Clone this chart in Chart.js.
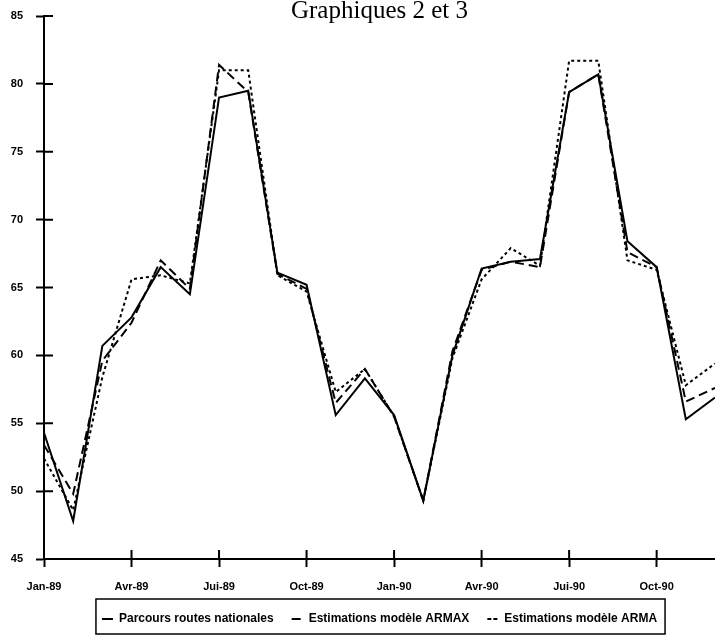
<!DOCTYPE html>
<html>
<head>
<meta charset="utf-8">
<script src="https://cdn.jsdelivr.net/npm/chart.js@4"></script>
<style>
  html, body { margin: 0; padding: 0; background: #fff; }
  #wrap { width: 715px; height: 639px; }
</style>
</head>
<body>
<div id="wrap"><canvas id="graph"></canvas></div>
<script>
// mois, de Jan-89 a Dec-90
var mois = ['Jan-89','Fév-89','Mar-89','Avr-89','Mai-89','Jun-89','Jui-89','Aoû-89','Sep-89','Oct-89','Nov-89','Déc-89',
            'Jan-90','Fév-90','Mar-90','Avr-90','Mai-90','Jun-90','Jui-90','Aoû-90','Sep-90','Oct-90','Nov-90','Déc-90'];

var parcours = [54.3, 47.8, 60.7, 62.8, 66.5, 64.5, 79.0, 79.5, 66.1, 65.2, 55.6, 58.3,
                55.6, 49.3, 60.0, 66.4, 66.9, 67.1, 79.4, 80.7, 68.4, 66.5, 55.3, 56.9];
var armax    = [53.4, 49.8, 59.6, 62.4, 67.0, 64.9, 81.4, 79.4, 66.0, 64.9, 56.5, 59.0,
                55.5, 49.3, 60.3, 66.3, 66.9, 66.5, 79.4, 80.7, 67.6, 66.5, 56.6, 57.6];
var arma     = [52.4, 48.6, 58.4, 65.6, 65.9, 65.3, 81.0, 81.0, 65.9, 64.7, 57.3, 59.0,
                55.5, 49.3, 59.8, 65.6, 67.9, 66.6, 81.7, 81.7, 67.0, 66.3, 57.8, 59.4];

var yTicks = [45, 50, 55, 60, 65, 70, 75, 80, 85];

// demi-traits de graduation a l'interieur du cadre (les traits croisent l'axe)
var crossTicks = {
    id: 'crossTicks',
    afterDraw: function (chart) {
        var ctx = chart.ctx, xs = chart.scales.x, ys = chart.scales.y;
        ctx.save();
        ctx.strokeStyle = '#000';
        ctx.lineWidth = 2;
        ctx.beginPath();
        yTicks.forEach(function (v) {
            var py = ys.getPixelForValue(v);
            ctx.moveTo(xs.left, py);
            ctx.lineTo(xs.left + 9, py);
        });
        for (var i = 0; i < mois.length; i += 3) {
            var px = xs.getPixelForValue(i);
            ctx.moveTo(px, ys.bottom);
            ctx.lineTo(px, ys.bottom - 9);
        }
        ctx.stroke();
        // cadre de la legende
        var boxes = chart.legend.legendHitBoxes;
        if (boxes && boxes.length) {
            var last = boxes[boxes.length - 1];
            var l = boxes[0].left - 6, r = last.left + last.width + 8;
            ctx.lineWidth = 1.5;
            ctx.strokeRect(l, 599, r - l, 35);
        }
        ctx.restore();
    }
};

Chart.defaults.font.family = '"Liberation Sans", Arial, sans-serif';
Chart.defaults.color = '#000';

new Chart(document.getElementById('graph'), {
    type: 'line',
    data: {
        labels: mois,
        datasets: [
            { label: 'Parcours routes nationales', data: parcours, borderColor: '#000', backgroundColor: '#000', borderWidth: 2, borderDash: [] },
            { label: 'Estimations modèle ARMAX', data: armax, borderColor: '#000', backgroundColor: '#000', borderWidth: 2, borderDash: [9, 5] },
            { label: 'Estimations modèle ARMA', data: arma, borderColor: '#000', backgroundColor: '#000', borderWidth: 2, borderDash: [3, 3] }
        ]
    },
    options: {
        responsive: true,
        maintainAspectRatio: false,
        animation: false,
        elements: { point: { radius: 0 }, line: { tension: 0, fill: false } },
        layout: { padding: { top: 0, left: 0, right: 0, bottom: 4 } },
        plugins: {
            title: {
                display: true,
                fullSize: false,
                text: 'Graphiques 2 et 3',
                font: { family: '"Liberation Serif", "Times New Roman", serif', size: 25, weight: 'normal' },
                padding: { top: -4, bottom: -10 },
                align: 'center'
            },
            legend: {
                position: 'bottom',
                fullSize: false,
                labels: {
                    boxWidth: 11,
                    boxHeight: 0,
                    padding: 18,
                    font: { size: 12, weight: 'bold' }
                }
            },
            tooltip: { enabled: false }
        },
        scales: {
            x: {
                offset: false,
                border: { color: '#000', width: 2 },
                grid: {
                    drawOnChartArea: false,
                    tickLength: 8,
                    tickWidth: 2,
                    tickColor: function (c) { return c.index % 3 === 0 ? '#000' : 'rgba(0,0,0,0)'; }
                },
                ticks: {
                    autoSkip: false,
                    maxRotation: 0,
                    padding: 13,
                    font: { size: 11, weight: 'bold' },
                    callback: function (v, i) { return i % 3 === 0 ? mois[i] : ''; }
                },
                afterFit: function (s) { s.height = 36; s.paddingLeft = 0; s.paddingRight = 0; }
            },
            y: {
                min: 45,
                max: 85,
                border: { color: '#000', width: 2 },
                grid: { drawOnChartArea: false, tickLength: 8, tickWidth: 2, tickColor: '#000' },
                ticks: { stepSize: 5, padding: 13, font: { size: 11, weight: 'bold' } },
                afterFit: function (s) { s.width = 44; s.paddingTop = 0; s.paddingBottom = 0; }
            }
        }
    },
    plugins: [crossTicks]
});
</script>
</body>
</html>
